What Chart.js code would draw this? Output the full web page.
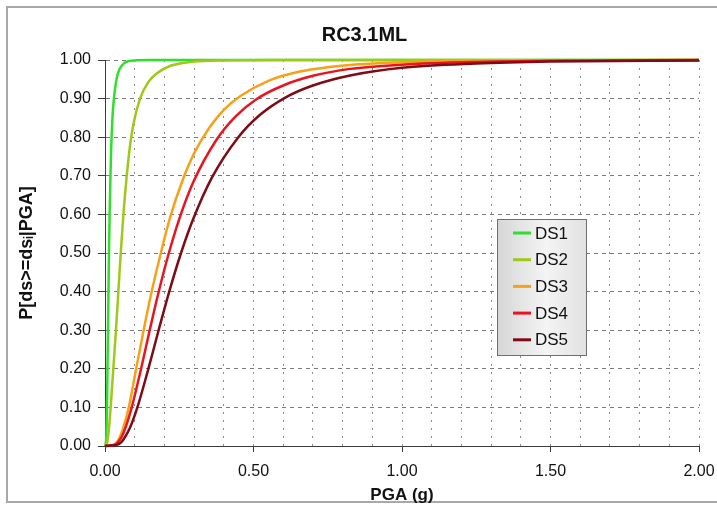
<!DOCTYPE html>
<html>
<head>
<meta charset="utf-8">
<title>RC3.1ML</title>
<script src="https://cdn.jsdelivr.net/npm/chart.js@4.4.0/dist/chart.umd.min.js"></script>
<style>
  html, body { margin: 0; padding: 0; background: #fff; }
</style>
</head>
<body>
<canvas id="chart1" width="717" height="511"></canvas>
<script>
// Series names and colours
const seriesNames = ['DS1', 'DS2', 'DS3', 'DS4', 'DS5'];
const seriesColors = ['#2fe02a', '#9fc919', '#f6a117', '#e8141f', '#7d0c16'];

// Values: PGA (g) and P[ds>=dsi|PGA]
const ds1Pga  = [0, 0.004, 0.007, 0.01, 0.013, 0.016, 0.02, 0.025, 0.03, 0.04, 0.05, 0.065, 0.08, 0.1, 0.15, 2.0];
const ds1Prob = [0, 0.02, 0.12, 0.3, 0.48, 0.62, 0.75, 0.85, 0.9, 0.955, 0.978, 0.992, 0.997, 0.999, 1.0, 1.0];

const ds2Pga  = [0, 0.006, 0.012, 0.019, 0.028, 0.036, 0.045, 0.053, 0.062, 0.072, 0.083, 0.096, 0.118, 0.145, 0.174, 0.22, 0.3, 0.4, 0.6, 2.0];
const ds2Prob = [0, 0.005, 0.035, 0.1, 0.2, 0.29, 0.4, 0.5, 0.6, 0.69, 0.77, 0.835, 0.9, 0.942, 0.965, 0.985, 0.996, 0.999, 1.0, 1.0];

const ds3Pga  = [0, 0.03, 0.045, 0.055, 0.065, 0.08, 0.1, 0.125, 0.15, 0.188, 0.22, 0.26, 0.3, 0.35, 0.4, 0.455, 0.55, 0.657, 0.825, 1.0, 1.25, 1.5, 2.0];
const ds3Prob = [0, 0.003, 0.016, 0.033, 0.056, 0.1, 0.18, 0.28, 0.375, 0.5, 0.594, 0.686, 0.758, 0.823, 0.871, 0.906, 0.946, 0.97, 0.987, 0.994, 0.998, 0.999, 1.0];

const ds4Pga  = [0, 0.035, 0.05, 0.06, 0.072, 0.09, 0.12, 0.149, 0.18, 0.215, 0.25, 0.297, 0.376, 0.44, 0.511, 0.6, 0.7, 0.825, 1.0, 1.25, 1.5, 2.0];
const ds4Prob = [0, 0.004, 0.016, 0.03, 0.054, 0.1, 0.195, 0.295, 0.397, 0.5, 0.588, 0.683, 0.794, 0.854, 0.899, 0.934, 0.959, 0.977, 0.988, 0.995, 0.998, 1.0];

const ds5Pga  = [0, 0.04, 0.055, 0.065, 0.084, 0.109, 0.146, 0.183, 0.217, 0.256, 0.297, 0.359, 0.449, 0.522, 0.61, 0.7, 0.825, 1.0, 1.25, 1.5, 2.0];
const ds5Prob = [0, 0.003, 0.01, 0.02, 0.047, 0.1, 0.2, 0.307, 0.402, 0.5, 0.588, 0.694, 0.8, 0.858, 0.904, 0.934, 0.96, 0.98, 0.991, 0.996, 0.999];

// Tick labels shown on the x axis (grid every 0.1)
const xTickLabels = ['0.00', '0.50', '1.00', '1.50', '2.00'];

const allPga = [ds1Pga, ds2Pga, ds3Pga, ds4Pga, ds5Pga];
const allProb = [ds1Prob, ds2Prob, ds3Prob, ds4Prob, ds5Prob];

const FONT = '"Liberation Sans", Arial, sans-serif';

function toPoints(xs, ys) {
    return xs.map((x, i) => ({ x: x, y: ys[i] }));
}

function isLabelTick(v) {
    return xTickLabels.indexOf(v.toFixed(2)) !== -1;
}

// White background and light grey frame round the whole picture
const framePlugin = {
    id: 'frame',
    beforeDraw(chart) {
        const ctx = chart.ctx;
        ctx.save();
        ctx.fillStyle = '#ffffff';
        ctx.fillRect(0, 0, chart.width, chart.height);
        ctx.strokeStyle = '#a8a8a8';
        ctx.lineWidth = 2;
        ctx.strokeRect(7, 7, chart.width + 10, chart.height - 16);
        ctx.restore();
    }
};

// Legend box sitting inside the plot
const boxLegend = {
    id: 'boxLegend',
    afterDatasetsDraw(chart) {
        const ctx = chart.ctx;
        const left = 497, top = 219, w = 89, h = 136;
        ctx.save();
        const g = ctx.createLinearGradient(left, 0, left + w, 0);
        g.addColorStop(0, '#d6d6d6');
        g.addColorStop(0.55, '#f4f4f4');
        g.addColorStop(1, '#e2e2e2');
        ctx.fillStyle = g;
        ctx.fillRect(left, top, w, h);
        ctx.strokeStyle = '#6e6e6e';
        ctx.lineWidth = 1;
        ctx.strokeRect(left + 0.5, top + 0.5, w, h);
        ctx.font = '17px ' + FONT;
        ctx.textBaseline = 'middle';
        chart.data.datasets.forEach((ds, i) => {
            const y = top + 14 + i * 26.7;
            ctx.strokeStyle = ds.borderColor;
            ctx.lineWidth = 3;
            ctx.beginPath();
            ctx.moveTo(left + 16, y);
            ctx.lineTo(left + 34, y);
            ctx.stroke();
            ctx.fillStyle = '#111';
            ctx.fillText(ds.label, left + 38, y + 1);
        });
        ctx.restore();
    }
};

const datasets = seriesNames.map((name, i) => ({
    label: name,
    data: toPoints(allPga[i], allProb[i]),
    borderColor: seriesColors[i],
    backgroundColor: seriesColors[i],
    borderWidth: 2.5,
    pointRadius: 0,
    showLine: true,
    fill: false,
    cubicInterpolationMode: 'monotone',
    order: seriesNames.length - i,
    clip: 6
}));

new Chart(document.getElementById('chart1'), {
    type: 'scatter',
    data: { datasets: datasets },
    options: {
        responsive: false,
        animation: false,
        layout: { padding: { left: 30, right: 18, top: 0, bottom: 0 } },
        plugins: {
            legend: { display: false },
            tooltip: { enabled: false },
            title: {
                display: true,
                text: 'RC3.1ML',
                color: '#111',
                font: { family: FONT, size: 20, weight: 'bold' },
                padding: { top: 23, bottom: 13 }
            }
        },
        scales: {
            x: {
                type: 'linear',
                min: 0,
                max: 2,
                afterFit: function(scale) {
                    scale.height = 65;
                    scale.paddingLeft = 0;
                    scale.paddingRight = 0;
                },
                ticks: {
                    stepSize: 0.1,
                    autoSkip: false,
                    maxRotation: 0,
                    padding: 10,
                    color: '#111',
                    font: { family: FONT, size: 16 },
                    callback: function(value) {
                        return isLabelTick(value) ? value.toFixed(2) : '';
                    }
                },
                grid: {
                    color: '#8c8c8c',
                    lineWidth: 1,
                    tickLength: 6,
                    tickColor: function(c) {
                        return c.tick && isLabelTick(c.tick.value) ? '#3c3c3c' : 'rgba(0,0,0,0)';
                    }
                },
                border: { color: '#3c3c3c', width: 1, dash: [2, 6] },
                title: {
                    display: true,
                    text: 'PGA (g)',
                    color: '#111',
                    font: { family: FONT, size: 17, weight: 'bold' },
                    padding: { top: 0, bottom: 5 }
                }
            },
            y: {
                type: 'linear',
                min: 0,
                max: 1,
                afterFit: function(scale) { scale.width = 75; },
                ticks: {
                    stepSize: 0.1,
                    padding: 7,
                    color: '#111',
                    font: { family: FONT, size: 16 },
                    callback: function(value) { return value.toFixed(2); }
                },
                grid: {
                    color: '#7a7a7a',
                    lineWidth: 1,
                    tickLength: 7,
                    tickColor: '#3c3c3c'
                },
                border: { color: '#3c3c3c', width: 1, dash: [4, 4] },
                title: {
                    display: true,
                    text: 'P[ds>=ds\u1D62|PGA]',
                    color: '#111',
                    font: { family: FONT, size: 18, weight: 'bold' },
                    padding: { top: -13.8, bottom: 0 }
                }
            }
        }
    },
    plugins: [framePlugin, boxLegend]
});
</script>
</body>
</html>
